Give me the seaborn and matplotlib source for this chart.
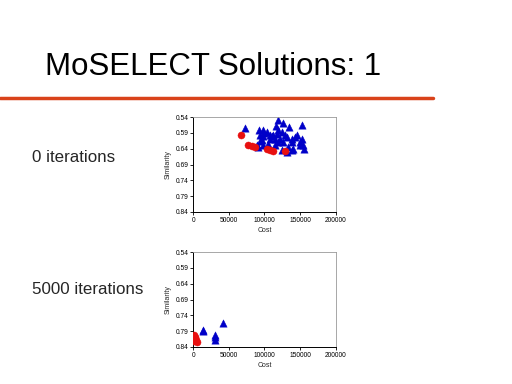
import matplotlib
matplotlib.use("Agg")
import matplotlib.pyplot as plt
import seaborn as sns
import pandas as pd
from matplotlib.lines import Line2D

sns.set_theme(style="white")
plt.rcParams['font.family'] = ['Liberation Sans', 'DejaVu Sans']

title = "MoSELECT Solutions: 1"
panel_labels = ["0 iterations", "5000 iterations"]
y_ticks = [0.54, 0.59, 0.64, 0.69, 0.74, 0.79, 0.84]
x_ticks = [0, 50000, 100000, 150000, 200000]

# panel 1: 0 iterations
p1_red_cost = [66500, 77300, 82000, 86600, 104000, 107700, 112400, 128800]
p1_red_sim = [0.598, 0.629, 0.630, 0.633, 0.641, 0.643, 0.646, 0.648]
p1_blue_cost = [72600, 119400, 125500, 116200, 134900, 152200,
                92700, 98400, 103000, 93700, 98400, 107700, 112400, 117100,
                119400, 124100, 128800, 131200, 121800, 114800, 107700, 93700,
                89000, 91300, 98400, 114800, 119400, 126500, 138200, 142900,
                145200, 138200, 149900, 152200, 154600, 155500, 149900, 133500,
                124100, 131200, 138200, 140500, 105400, 100000, 110000, 96000]
p1_blue_sim = [0.575, 0.5505, 0.558, 0.568, 0.572, 0.566,
               0.582, 0.582, 0.587, 0.598, 0.600, 0.598, 0.598, 0.593,
               0.582, 0.587, 0.598, 0.603, 0.608, 0.608, 0.608, 0.614,
               0.629, 0.635, 0.629, 0.629, 0.619, 0.619, 0.608, 0.603,
               0.598, 0.619, 0.619, 0.608, 0.629, 0.640, 0.629, 0.635,
               0.645, 0.651, 0.645, 0.640, 0.626, 0.590, 0.600, 0.612]

# panel 2: 5000 iterations
p2_red_cost = [1400, 2300, 3700, 1400, 4700, 1900, 600]
p2_red_sim = [0.801, 0.812, 0.817, 0.822, 0.824, 0.809, 0.818]
p2_blue_cost = [13100, 14100, 30400, 30400, 30400, 42200]
p2_blue_sim = [0.786, 0.791, 0.801, 0.810, 0.819, 0.765]

fig = plt.figure(figsize=(5.12, 3.84), dpi=100)
fig.patch.set_facecolor("white")

fig.text(45/512, 1 - 67/384, title, fontsize=22.5, ha="left", va="center", color="black")
fig.add_artist(Line2D([0, 433/512], [1 - 98/384, 1 - 98/384], color="#d9421a", lw=2.5,
                      transform=fig.transFigure))

panels = [
    (p1_red_cost, p1_red_sim, p1_blue_cost, p1_blue_sim, 0.448, 158),
    (p2_red_cost, p2_red_sim, p2_blue_cost, p2_blue_sim, 0.0964, 289),
]
for i, (rc, rs, bc, bs, bottom, label_y) in enumerate(panels):
    ax = fig.add_axes([0.3775, bottom, 0.278, 0.247])
    df = pd.DataFrame({
        "Cost": bc + rc,
        "Similarity": bs + rs,
        "group": ["blue"] * len(bc) + ["red"] * len(rc),
    })
    sns.scatterplot(data=df[df.group == "blue"], x="Cost", y="Similarity", ax=ax,
                    color="#0000c8", marker="^", s=28, edgecolor="#0000c8", linewidth=0.3,
                    legend=False, zorder=2)
    sns.scatterplot(data=df[df.group == "red"], x="Cost", y="Similarity", ax=ax,
                    color="#e81010", marker="o", s=26, edgecolor="#e81010", linewidth=0.3,
                    legend=False, zorder=3)
    ax.set_xlim(0, 200000)
    ax.set_ylim(0.84, 0.54)
    ax.set_xticks(x_ticks)
    ax.set_xticklabels([str(v) for v in x_ticks])
    ax.set_yticks(y_ticks)
    ax.set_yticklabels([f"{v:.2f}" for v in y_ticks])
    ax.tick_params(axis="both", labelsize=4.8, length=2, width=0.6, pad=1.5,
                   direction="out", left=True, bottom=True, colors="black")
    ax.set_xlabel("Cost", fontsize=5, labelpad=2)
    ax.set_ylabel("Similarity", fontsize=5, labelpad=3)
    for side in ["left", "bottom"]:
        ax.spines[side].set_color("black")
        ax.spines[side].set_linewidth(0.7)
    for side in ["top", "right"]:
        ax.spines[side].set_color("#999999")
        ax.spines[side].set_linewidth(0.6)
    fig.text(32/512, 1 - label_y/384, panel_labels[i], fontsize=12.2, ha="left", va="center")

fig.savefig("out.png", dpi=100, facecolor="white")
